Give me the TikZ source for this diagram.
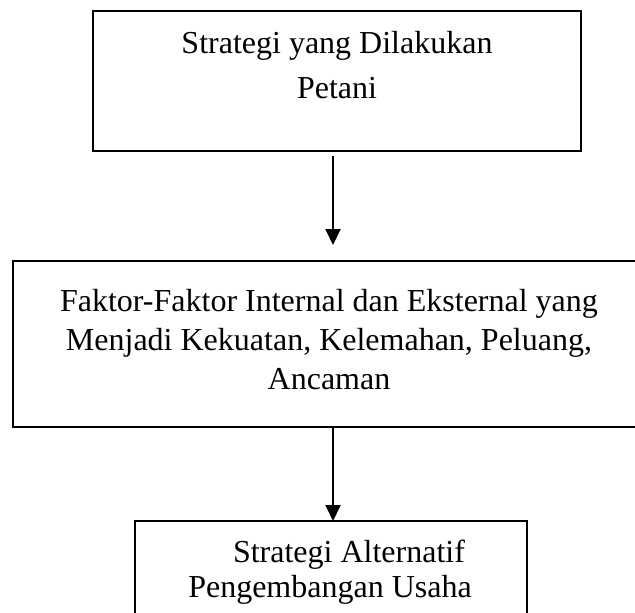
\documentclass[tikz,border=0pt]{standalone}
\usepackage{fontspec}
\setmainfont{Liberation Serif}
\usetikzlibrary{arrows.meta}
\begin{document}
\begin{tikzpicture}[x=1pt,y=-1pt,
  box/.style={draw,line width=2pt,inner sep=0pt,outer sep=0pt},
  lbl/.style={inner sep=0pt,anchor=base,font=\fontsize{32}{38}\selectfont},
  arr/.style={line width=2pt,-{Triangle[width=15pt,length=16pt]}}]
\clip (0,0) rectangle (635,613);
\node[box,minimum width=488pt,minimum height=140pt] (top) at (337,81) {};
\node[box,minimum width=687pt,minimum height=166pt] (mid) at (356.5,344) {};
\node[box,minimum width=392pt,minimum height=179pt] (bot) at (331,610.5) {};
\coordinate (a1) at (333,245);
\draw[arr] ([yshift=-5pt]top.south -| a1) -- (a1);
\draw[arr] (mid.south -| a1) -- (bot.north -| a1);
\node[lbl] (t1) at (337,53) {Strategi yang Dilakukan};
\node[lbl] (t2) at (337,98) {Petani};
\node[lbl] (m1) at (329,311) {Faktor-Faktor Internal dan Eksternal yang};
\node[lbl] (m2) at (329,350) {Menjadi Kekuatan, Kelemahan, Peluang,};
\node[lbl] (m3) at (329,389) {Ancaman};
\node[lbl] (b1) at (349,562) {Strategi Alternatif};
\node[lbl] (b2) at (330,597) {Pengembangan Usaha};
\end{tikzpicture}
\end{document}
